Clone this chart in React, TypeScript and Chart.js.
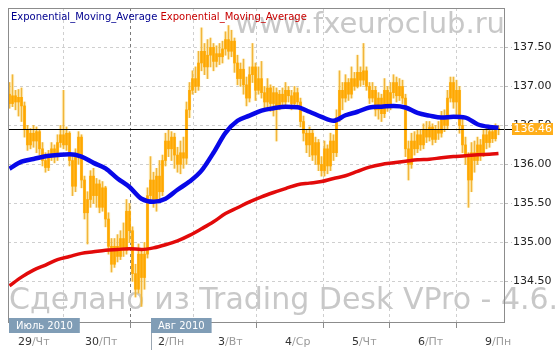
import React, { useEffect, useRef } from "react";
import { Chart, registerables } from "chart.js";
Chart.register(...registerables);

// Hourly candles EUR/JPY-like: [open, high, low, close]
const candles: [number, number, number, number][] = [
  [136.90, 137.05, 136.72, 136.78], [136.78, 137.15, 136.74, 136.88], [136.88, 136.95, 136.70, 136.80], [136.80, 136.96, 136.62, 136.86],
  [136.86, 136.98, 136.55, 136.75], [136.75, 136.80, 136.35, 136.45], [136.45, 136.50, 136.18, 136.25], [136.25, 136.46, 136.20, 136.40],
  [136.40, 136.50, 136.22, 136.30], [136.30, 136.48, 136.15, 136.42], [136.42, 136.45, 136.12, 136.20], [136.20, 136.28, 135.98, 136.05],
  [136.05, 136.15, 135.90, 135.96], [135.96, 136.18, 135.92, 136.12], [136.12, 136.28, 136.05, 136.20], [136.20, 136.25, 136.02, 136.10],
  [136.10, 136.38, 136.05, 136.28], [136.28, 136.50, 136.22, 136.38], [136.38, 136.95, 136.20, 136.25], [136.25, 136.48, 136.18, 136.40],
  [136.40, 136.42, 135.98, 136.05], [136.05, 136.10, 135.60, 135.72], [135.72, 136.20, 135.65, 136.10], [136.10, 136.42, 136.00, 136.35],
  [136.35, 136.38, 135.70, 135.80], [135.80, 135.85, 135.30, 135.38], [135.38, 135.65, 134.98, 135.55], [135.55, 135.92, 135.45, 135.85],
  [135.85, 135.95, 135.50, 135.60], [135.60, 135.82, 135.45, 135.75], [135.75, 135.80, 135.38, 135.45], [135.45, 135.78, 135.40, 135.70],
  [135.70, 135.72, 135.20, 135.30], [135.30, 135.38, 134.85, 134.95], [134.95, 135.05, 134.62, 134.72], [134.72, 135.05, 134.68, 134.95],
  [134.95, 135.10, 134.75, 134.82], [134.82, 135.15, 134.78, 135.05], [135.05, 135.25, 134.82, 134.90], [134.90, 135.55, 134.85, 135.40],
  [135.40, 135.50, 135.00, 135.15], [135.15, 135.20, 134.50, 134.60], [134.60, 134.72, 134.30, 134.40], [134.40, 134.98, 134.35, 134.85],
  [134.85, 134.90, 134.18, 134.55], [134.55, 135.00, 134.40, 134.85], [134.85, 135.70, 134.80, 135.60], [135.60, 136.10, 135.50, 135.80],
  [135.80, 135.90, 135.45, 135.55], [135.55, 135.95, 135.40, 135.85], [135.85, 136.05, 135.55, 135.65], [135.65, 136.12, 135.60, 136.05],
  [136.05, 136.40, 135.98, 136.30], [136.30, 136.45, 136.10, 136.20], [136.20, 136.42, 136.05, 136.35], [136.35, 136.40, 135.95, 136.12],
  [136.12, 136.22, 135.90, 136.00], [136.00, 136.30, 135.88, 136.15], [136.15, 136.35, 135.95, 136.08], [136.08, 136.80, 136.00, 136.70],
  [136.70, 137.05, 136.60, 136.95], [136.95, 137.20, 136.90, 137.10], [137.10, 137.25, 136.92, 137.00], [137.00, 137.45, 136.95, 137.30],
  [137.30, 137.75, 137.20, 137.45], [137.45, 137.55, 137.15, 137.25], [137.25, 137.60, 137.10, 137.40], [137.40, 137.62, 137.25, 137.50],
  [137.50, 137.55, 137.20, 137.32], [137.32, 137.52, 137.25, 137.42], [137.42, 137.55, 137.28, 137.38], [137.38, 137.58, 137.30, 137.48],
  [137.48, 137.70, 137.40, 137.60], [137.60, 137.78, 137.35, 137.45], [137.45, 137.72, 137.38, 137.58], [137.58, 137.62, 137.18, 137.30],
  [137.30, 137.40, 137.02, 137.10], [137.10, 137.30, 137.00, 137.22], [137.22, 137.35, 136.90, 137.02], [137.02, 137.12, 136.75, 136.85],
  [136.85, 137.25, 136.80, 137.15], [137.15, 137.55, 137.05, 137.25], [137.25, 137.30, 136.82, 136.95], [136.95, 137.25, 136.90, 137.10],
  [137.10, 137.32, 136.85, 136.92], [136.92, 137.00, 136.70, 136.80], [136.80, 137.10, 136.72, 136.98], [136.98, 137.02, 136.68, 136.78],
  [136.78, 137.00, 136.62, 136.92], [136.92, 136.98, 136.30, 136.75], [136.75, 136.95, 136.70, 136.90], [136.90, 136.98, 136.72, 136.80],
  [136.80, 137.05, 136.75, 136.95], [136.95, 137.00, 136.80, 136.88], [136.88, 136.95, 136.70, 136.78], [136.78, 137.00, 136.72, 136.92],
  [136.92, 136.98, 136.72, 136.80], [136.80, 136.85, 136.48, 136.55], [136.55, 136.62, 136.30, 136.40], [136.40, 136.45, 136.15, 136.25],
  [136.25, 136.48, 136.10, 136.40], [136.40, 136.45, 136.05, 136.12], [136.12, 136.35, 136.00, 136.28], [136.28, 136.32, 135.92, 136.00],
  [136.00, 136.10, 135.85, 135.92], [135.92, 136.30, 135.85, 136.20], [136.20, 136.25, 135.88, 135.98], [135.98, 136.40, 135.92, 136.30],
  [136.30, 136.38, 136.05, 136.15], [136.15, 136.70, 136.10, 136.60], [136.60, 137.20, 136.55, 136.95], [136.95, 137.05, 136.70, 136.85],
  [136.85, 137.15, 136.80, 137.05], [137.05, 137.10, 136.82, 136.90], [136.90, 137.25, 136.85, 137.10], [137.10, 137.18, 136.95, 137.00],
  [137.00, 137.40, 136.98, 137.18], [137.18, 137.25, 137.00, 137.08], [137.08, 137.55, 137.02, 137.20], [137.20, 137.25, 136.95, 137.00],
  [137.00, 137.05, 136.78, 136.85], [136.85, 137.05, 136.80, 136.95], [136.95, 137.00, 136.62, 136.70], [136.70, 136.92, 136.58, 136.85],
  [136.85, 136.90, 136.55, 136.65], [136.65, 137.10, 136.60, 136.95], [136.95, 137.00, 136.68, 136.75], [136.75, 137.05, 136.70, 136.92],
  [136.92, 137.15, 136.85, 137.05], [137.05, 137.12, 136.80, 136.88], [136.88, 137.10, 136.82, 137.00], [137.00, 137.08, 136.78, 136.85],
  [136.85, 136.90, 136.10, 136.20], [136.20, 136.30, 135.80, 136.00], [136.00, 136.40, 135.95, 136.30], [136.30, 136.42, 136.12, 136.20],
  [136.20, 136.45, 136.15, 136.38], [136.38, 136.45, 136.18, 136.25], [136.25, 136.52, 136.20, 136.45], [136.45, 136.55, 136.28, 136.35],
  [136.35, 136.55, 136.30, 136.48], [136.48, 136.52, 136.25, 136.32], [136.32, 136.50, 136.28, 136.45], [136.45, 136.55, 136.32, 136.40],
  [136.40, 136.68, 136.35, 136.62], [136.62, 136.70, 136.42, 136.50], [136.50, 136.95, 136.45, 136.85], [136.85, 137.12, 136.80, 137.05],
  [137.05, 137.12, 136.72, 136.80], [136.80, 137.08, 136.62, 136.95], [136.95, 137.00, 136.40, 136.50], [136.50, 136.58, 136.15, 136.25],
  [136.25, 136.35, 136.00, 136.10], [136.10, 136.15, 135.45, 135.80], [135.80, 136.28, 135.65, 136.15], [136.15, 136.30, 135.90, 136.05],
  [136.05, 136.35, 136.00, 136.25], [136.25, 136.32, 136.05, 136.15], [136.15, 136.45, 136.10, 136.38], [136.38, 136.48, 136.20, 136.28],
  [136.28, 136.50, 136.22, 136.42], [136.42, 136.48, 136.28, 136.33], [136.33, 136.52, 136.30, 136.45], [136.45, 136.50, 136.38, 136.46],
];

// EMA samples (candle index -> value)
const emaIndex = [0, 4, 8, 12, 16, 20, 24, 28, 32, 36, 40, 44, 48, 52, 56, 60, 64, 68, 72, 76, 80, 84, 88, 92, 96, 100, 104, 108, 112, 116, 120, 124, 128, 132, 136, 140, 144, 148, 152, 156, 160, 163];
const emaFast = [135.945, 136.035, 136.07, 136.105, 136.12, 136.13, 136.10, 136.02, 135.95, 135.82, 135.71, 135.56, 135.52, 135.56, 135.675, 135.78, 135.92, 136.15, 136.405, 136.56, 136.625, 136.69, 136.72, 136.74, 136.733, 136.675, 136.61, 136.56, 136.63, 136.675, 136.73, 136.74, 136.75, 136.73, 136.66, 136.625, 136.60, 136.61, 136.60, 136.515, 136.48, 136.47];
const emaSlow = [134.445, 134.555, 134.645, 134.71, 134.78, 134.82, 134.86, 134.88, 134.90, 134.91, 134.92, 134.91, 134.93, 134.97, 135.02, 135.09, 135.175, 135.265, 135.37, 135.445, 135.52, 135.585, 135.64, 135.69, 135.74, 135.76, 135.78, 135.82, 135.855, 135.91, 135.965, 136.00, 136.02, 136.04, 136.06, 136.067, 136.085, 136.10, 136.11, 136.125, 136.13, 136.14];

const yTicks = [134.5, 135.0, 135.5, 136.0, 136.5, 137.0, 137.5];
const dayTickPos = [6.8, 29.2, 51.2, 71.2, 93.5, 115.8, 137.8, 160.2];
const dayNums = ["29", "30", "2", "3", "4", "5", "6", "9"];
const dayNames = ["Чт", "Пт", "Пн", "Вт", "Ср", "Чт", "Пт", "Пн"];
const monthLabels = ["Июль 2010", "Авг 2010"];
const monthStartPos = [-0.5, 47.2];
const lastPrice = 136.46;
const legendNames = ["Exponential_Moving_Average", "Exponential_Moving_Average"];
const watermarkTop = "www.fxeuroclub.ru";
const watermarkBottom = "Сделано из Trading Desk VPro - 4.6.5";

const FONT = "'DejaVu Sans', Verdana, sans-serif";

export default function App() {
  const ref = useRef<HTMLCanvasElement | null>(null);
  useEffect(() => {
    const canvas = ref.current;
    if (!canvas) return;
    const n = candles.length;

    const overlay = {
      id: "overlay",
      beforeDatasetsDraw(chart: any) {
        const ctx = chart.ctx;
        ctx.save();
        ctx.fillStyle = "#c8c8c8";
        ctx.font = "29px " + FONT;
        ctx.textBaseline = "alphabetic";
        ctx.textAlign = "right";
        ctx.fillText(watermarkTop, 505, 33);
        ctx.font = "30px " + FONT;
        ctx.textAlign = "left";
        ctx.fillText(watermarkBottom, 9, 309);
        ctx.restore();
      },
      afterDatasetDraw(chart: any, args: any) {
        if (args.index !== 2) return;
        const ctx = chart.ctx;
        const y = Math.round(chart.scales.y.getPixelForValue(lastPrice)) + 0.5;
        ctx.save();
        ctx.strokeStyle = "#000";
        ctx.lineWidth = 1;
        ctx.beginPath();
        ctx.moveTo(chart.chartArea.left, y);
        ctx.lineTo(chart.chartArea.right + 7, y);
        ctx.stroke();
        ctx.restore();
      },
      afterDraw(chart: any) {
        const ctx = chart.ctx;
        const ca = chart.chartArea;
        const xs = chart.scales.x;
        const ys = chart.scales.y;
        ctx.save();
        // frame
        ctx.strokeStyle = "#8c8c8c";
        ctx.lineWidth = 1;
        ctx.strokeRect(ca.left + 0.5, ca.top + 0.5, ca.right - ca.left - 1, ca.bottom - ca.top);
        // legend
        ctx.font = "10px " + FONT;
        ctx.textBaseline = "alphabetic";
        ctx.textAlign = "left";
        ctx.fillStyle = "#000090";
        ctx.fillText(legendNames[0], 11, 19.5);
        const w0 = ctx.measureText(legendNames[0] + " ").width;
        ctx.fillStyle = "#c80000";
        ctx.fillText(legendNames[1], 11 + w0, 19.5);
        // price tag
        const py = ys.getPixelForValue(lastPrice);
        ctx.fillStyle = "#ffae1a";
        ctx.fillRect(512, Math.round(py) - 6, 41, 12);
        ctx.fillStyle = "#ffffff";
        ctx.font = "11px " + FONT;
        ctx.textBaseline = "middle";
        ctx.fillText(lastPrice.toFixed(2), 513.5, Math.round(py) + 0.5);
        // month boxes
        ctx.font = "10px " + FONT;
        monthLabels.forEach((t, i) => {
          const x0 = i === 0 ? ca.left + 1 : Math.round(xs.getPixelForValue(monthStartPos[i]));
          const tw = ctx.measureText(t).width;
          if (i > 0) {
            ctx.strokeStyle = "#9aa6b2";
            ctx.beginPath();
            ctx.moveTo(x0 + 0.5, 318);
            ctx.lineTo(x0 + 0.5, 350);
            ctx.stroke();
          }
          ctx.fillStyle = "#809db6";
          ctx.fillRect(x0, 318, tw + 14, 15);
          ctx.fillStyle = "#ffffff";
          ctx.textBaseline = "middle";
          ctx.fillText(t, x0 + 7, 326);
        });
        // day labels
        ctx.font = "11px " + FONT;
        ctx.textBaseline = "middle";
        dayTickPos.forEach((p, i) => {
          const x = xs.getPixelForValue(p) + 2;
          ctx.textAlign = "right";
          ctx.fillStyle = "#333333";
          ctx.fillText(dayNums[i], x, 342);
          ctx.textAlign = "left";
          ctx.fillStyle = "#9a9a9a";
          ctx.fillText("/" + dayNames[i], x, 342);
        });
        ctx.restore();
      },
    };

    const chart = new Chart(canvas, {
      type: "bar",
      data: {
        datasets: [
          {
            type: "line",
            label: "EMA fast",
            data: emaIndex.map((x, i) => ({ x, y: emaFast[i] })),
            borderColor: "#0808e8",
            borderWidth: 4.5,
            pointRadius: 0,
            cubicInterpolationMode: "monotone",
            order: 0,
          } as any,
          {
            type: "line",
            label: "EMA slow",
            data: emaIndex.map((x, i) => ({ x, y: emaSlow[i] })),
            borderColor: "#e20a0a",
            borderWidth: 3.5,
            pointRadius: 0,
            cubicInterpolationMode: "monotone",
            order: 1,
          } as any,
          {
            type: "bar",
            label: "body",
            data: candles.map((c, i) => ({ x: i, y: [Math.min(c[0], c[3]), Math.max(c[0], c[3])] })),
            backgroundColor: "#ffa800",
            barThickness: 2,
            minBarLength: 1,
            grouped: false,
            order: 2,
          } as any,
          {
            type: "bar",
            label: "wick",
            data: candles.map((c, i) => ({ x: i, y: [c[2], c[1]] })),
            backgroundColor: "#f2b53a",
            barThickness: 1,
            grouped: false,
            order: 3,
          } as any,
          {
            type: "bar",
            label: "halo",
            data: candles.map((c, i) => ({ x: i, y: [c[2], c[1]] })),
            backgroundColor: "rgba(255,225,110,0.28)",
            barThickness: 3,
            grouped: false,
            order: 4,
          } as any,
        ],
      },
      options: {
        animation: false,
        responsive: false,
        devicePixelRatio: 1,
        layout: { padding: { left: 8, top: 8, right: 0, bottom: 0 } },
        plugins: { legend: { display: false }, tooltip: { enabled: false } },
        scales: {
          x: {
            type: "linear",
            min: -0.5,
            max: n + 1.17,
            offset: false,
            afterBuildTicks: (s: any) => {
              s.ticks = dayTickPos.map((v) => ({ value: v }));
            },
            afterFit: (s: any) => {
              s.height = 30;
            },
            ticks: { display: false },
            grid: {
              color: (c: any) => (c.index === 2 ? "#7a7a7a" : "#cfcfcf"),
              tickColor: "#8c8c8c",
              tickLength: 6,
              tickBorderDash: [],
            },
            border: { display: false, dash: [3, 3] },
          } as any,
          y: {
            type: "linear",
            position: "right",
            min: 133.98,
            max: 138.005,
            afterBuildTicks: (s: any) => {
              s.ticks = yTicks.map((v) => ({ value: v }));
            },
            afterFit: (s: any) => {
              s.width = 54;
            },
            ticks: {
              callback: (v: any) => Number(v).toFixed(2),
              font: { family: FONT, size: 11 },
              color: "#222222",
              padding: 1,
            },
            grid: {
              color: "#cfcfcf",
              tickColor: "#bdbdbd",
              tickLength: 7,
              tickBorderDash: [3, 3],
            },
            border: { display: false, dash: [3, 3] },
          } as any,
        },
      } as any,
      plugins: [overlay],
    });
    return () => chart.destroy();
  }, []);

  return (
    <div style={{ position: "fixed", left: 0, top: 0, width: 559, height: 352, background: "#fff" }}>
      <canvas ref={ref} width={559} height={352} style={{ display: "block" }} />
    </div>
  );
}
